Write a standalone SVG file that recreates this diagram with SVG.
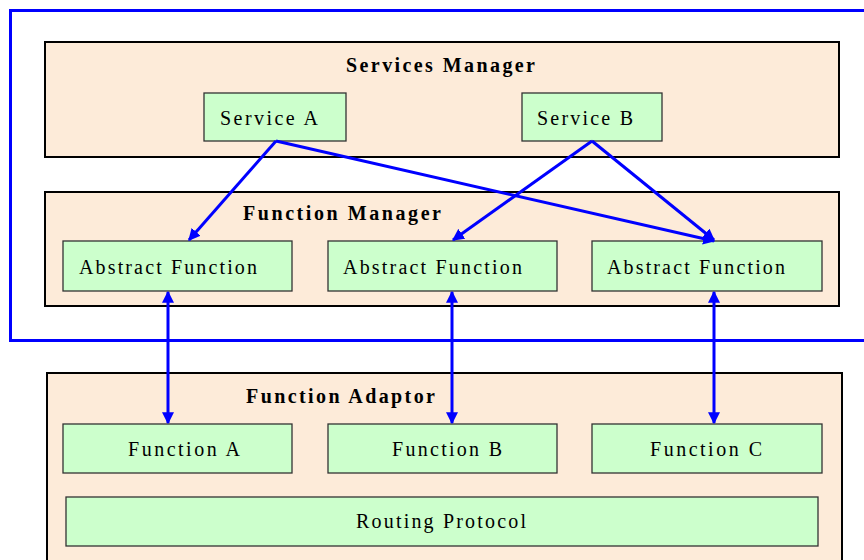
<svg xmlns="http://www.w3.org/2000/svg" width="864" height="560" viewBox="0 0 864 560">
<defs>
<style>
.grp{fill:#fdebd9;stroke:#000;stroke-width:2}
.box{fill:#ccffcc;stroke:#333;stroke-width:1.3}
.t{font-family:"Liberation Serif",serif;font-size:20px;fill:#000}
.h{font-family:"Liberation Serif",serif;font-size:20px;font-weight:bold;fill:#000}
.c{stroke:#0000ff;stroke-width:3;fill:none}
</style>
<marker id="ah" viewBox="0 0 10 10" refX="9" refY="5" markerWidth="4" markerHeight="4" orient="auto-start-reverse" markerUnits="strokeWidth">
<path d="M0,0 L10,5 L0,10 z" fill="#0000ff"/>
</marker>
</defs>
<rect x="0" y="0" width="864" height="560" fill="#fff"/>
<path d="M866,10.5 H10.5 V340.5 H866" fill="none" stroke="#0000ff" stroke-width="3"/>
<g id="services-manager">
<rect class="grp" x="45" y="42" width="794" height="115"/>
<text class="h" x="346" y="72" textLength="189">Services Manager</text>
</g>
<g id="service-a">
<rect class="box" x="204" y="93" width="142" height="48"/>
<text class="t" x="220" y="125" textLength="98">Service A</text>
</g>
<g id="service-b">
<rect class="box" x="522" y="93" width="140" height="48"/>
<text class="t" x="537" y="125" textLength="96">Service B</text>
</g>
<g id="function-manager">
<rect class="grp" x="45" y="192" width="794" height="114"/>
<text class="h" x="243" y="220" textLength="198">Function Manager</text>
</g>
<g id="abstract-function-1">
<rect class="box" x="63" y="241" width="229" height="50"/>
<text class="t" x="79" y="274" textLength="178">Abstract Function</text>
</g>
<g id="abstract-function-2">
<rect class="box" x="328" y="241" width="229" height="50"/>
<text class="t" x="343" y="274" textLength="179">Abstract Function</text>
</g>
<g id="abstract-function-3">
<rect class="box" x="592" y="241" width="230" height="50"/>
<text class="t" x="607" y="274" textLength="178">Abstract Function</text>
</g>
<g id="function-adaptor">
<rect class="grp" x="47" y="373" width="795" height="192"/>
<text class="h" x="246" y="403" textLength="189">Function Adaptor</text>
</g>
<g id="function-a">
<rect class="box" x="63" y="424" width="229" height="49"/>
<text class="t" x="128" y="456" textLength="112">Function A</text>
</g>
<g id="function-b">
<rect class="box" x="328" y="424" width="229" height="49"/>
<text class="t" x="392" y="456" textLength="110">Function B</text>
</g>
<g id="function-c">
<rect class="box" x="592" y="424" width="230" height="49"/>
<text class="t" x="650" y="456" textLength="112">Function C</text>
</g>
<g id="routing-protocol">
<rect class="box" x="66" y="497" width="752" height="49"/>
<text class="t" x="356" y="528" textLength="170">Routing Protocol</text>
</g>
<g id="connectors">
<line class="c" x1="276" y1="141" x2="189" y2="240" marker-end="url(#ah)"/>
<line class="c" x1="276" y1="141" x2="714" y2="241" marker-end="url(#ah)"/>
<line class="c" x1="592" y1="141" x2="453" y2="240" marker-end="url(#ah)"/>
<line class="c" x1="592" y1="141" x2="714" y2="240" marker-end="url(#ah)"/>
<line class="c" x1="168" y1="292" x2="168" y2="423" marker-start="url(#ah)" marker-end="url(#ah)"/>
<line class="c" x1="452" y1="292" x2="452" y2="423" marker-start="url(#ah)" marker-end="url(#ah)"/>
<line class="c" x1="714" y1="292" x2="714" y2="423" marker-start="url(#ah)" marker-end="url(#ah)"/>
</g>
</svg>
